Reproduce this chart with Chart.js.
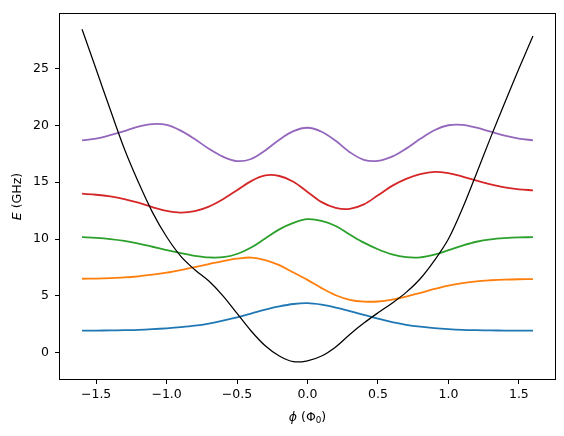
<!DOCTYPE html>
<html>
<head>
<meta charset="utf-8">
<script src="https://cdn.jsdelivr.net/npm/chart.js@4"></script>
<style>html,body{margin:0;padding:0;background:#fff}</style>
</head>
<body>
<canvas id="chart" width="564" height="436"></canvas>
<script>
// flux values (x) shared by every curve
const phi = [-1.6, -1.5, -1.4, -1.3, -1.2, -1.1, -1.0, -0.9, -0.8, -0.7, -0.6, -0.5, -0.4, -0.3, -0.2, -0.1,
  0.0, 0.1, 0.2, 0.3, 0.4, 0.5, 0.6, 0.7, 0.8, 0.9, 1.0, 1.1, 1.2, 1.3, 1.4, 1.5, 1.6];

// potential (black)
const potential = [28.48, 24.95, 21.4, 17.95, 15.0, 12.35, 10.2, 8.5, 7.3, 6.3, 5.0, 3.45, 1.9, 0.6, -0.3, -0.8,
  -0.72, -0.3, 0.5, 1.6, 2.6, 3.5, 4.35, 5.3, 6.5, 8.1, 10.0, 12.7, 15.8, 18.95, 22.0, 25.0, 27.87];

// levels with their wavefunctions
const level0 = [1.94, 1.94, 1.95, 1.97, 2.0, 2.06, 2.14, 2.24, 2.37, 2.56, 2.81, 3.1, 3.44, 3.78, 4.07, 4.28,
  4.35, 4.22, 3.97, 3.66, 3.32, 2.98, 2.68, 2.45, 2.28, 2.15, 2.06, 2.0, 1.97, 1.95, 1.94, 1.94, 1.94];
const level1 = [6.5, 6.52, 6.56, 6.62, 6.72, 6.86, 7.04, 7.27, 7.53, 7.8, 8.06, 8.27, 8.37, 8.15, 7.7, 7.05,
  6.4, 5.68, 5.05, 4.65, 4.49, 4.5, 4.66, 4.93, 5.26, 5.6, 5.9, 6.12, 6.28, 6.37, 6.43, 6.46, 6.47];
const level2 = [10.16, 10.1, 10.0, 9.84, 9.6, 9.32, 9.03, 8.75, 8.52, 8.38, 8.4, 8.68, 9.25, 10.05, 10.85, 11.42,
  11.75, 11.6, 11.15, 10.4, 9.68, 9.1, 8.65, 8.4, 8.38, 8.62, 9.02, 9.42, 9.76, 9.97, 10.08, 10.14, 10.16];
const level3 = [13.99, 13.9, 13.75, 13.52, 13.2, 12.8, 12.48, 12.33, 12.45, 12.85, 13.5, 14.3, 15.1, 15.6, 15.55, 15.05,
  14.15, 13.25, 12.75, 12.66, 13.05, 13.85, 14.68, 15.3, 15.72, 15.92, 15.8, 15.5, 15.15, 14.82, 14.55, 14.38, 14.29];
const level4 = [18.69, 18.85, 19.15, 19.5, 19.9, 20.12, 20.05, 19.55, 18.8, 17.95, 17.25, 16.86, 17.05, 17.8, 18.75, 19.5,
  19.8, 19.45, 18.65, 17.65, 16.97, 16.88, 17.25, 17.96, 18.82, 19.58, 20.02, 20.05, 19.8, 19.45, 19.1, 18.85, 18.69];

const xTicks = [-1.5, -1.0, -0.5, 0.0, 0.5, 1.0, 1.5];
const yTicks = [0, 5, 10, 15, 20, 25];

const FONT = "DejaVu Sans";
const FS = 12.5;
Chart.defaults.font.family = FONT;
Chart.defaults.font.size = FS;
Chart.defaults.color = "#000";

const fmt = (v, d) => v.toFixed(d).replace("-", "\u2212");
const pts = ys => ys.map((y, i) => ({ x: phi[i], y }));

const line = (data, color, width) => ({
  data: pts(data),
  borderColor: color,
  borderWidth: width,
  pointRadius: 0,
  tension: 0.35,
  fill: false
});

// box round the plot and the axis labels with italic parts
const frame = {
  id: "frame",
  afterDraw(chart) {
    const { ctx, chartArea: a } = chart;
    ctx.save();
    ctx.strokeStyle = "#000";
    ctx.lineWidth = 1;
    ctx.strokeRect(a.left, a.top, a.right - a.left, a.bottom - a.top);

    ctx.fillStyle = "#000";
    ctx.textBaseline = "middle";
    ctx.textAlign = "left";
    const it = `italic ${FS}px "${FONT}"`, rm = `${FS}px "${FONT}"`, sm = `${FS * 0.7}px "${FONT}"`;

    // y label
    ctx.save();
    ctx.translate(17.5, (a.top + a.bottom) / 2);
    ctx.rotate(-Math.PI / 2);
    ctx.font = it; const w1 = ctx.measureText("E").width;
    ctx.font = rm; const w2 = ctx.measureText(" (GHz)").width;
    let x = -(w1 + w2) / 2;
    ctx.font = it; ctx.fillText("E", x, 0); x += w1;
    ctx.font = rm; ctx.fillText(" (GHz)", x, 0);
    ctx.restore();

    // x label
    const cy = 417.5;
    ctx.font = it; const p1 = ctx.measureText("\u03d5").width;
    ctx.font = rm; const p2 = ctx.measureText(" (\u03a6").width, p4 = ctx.measureText(")").width;
    ctx.font = sm; const p3 = ctx.measureText("0").width;
    x = (a.left + a.right) / 2 - (p1 + p2 + p3 + p4) / 2;
    ctx.font = it; ctx.fillText("\u03d5", x, cy); x += p1;
    ctx.font = rm; ctx.fillText(" (\u03a6", x, cy); x += p2;
    ctx.font = sm; ctx.fillText("0", x, cy + 3.5); x += p3;
    ctx.font = rm; ctx.fillText(")", x, cy);
    ctx.restore();
  }
};

const tickGrid = { display: true, drawOnChartArea: false, drawTicks: true, tickLength: 4.5, color: "#000", lineWidth: 1 };

new Chart(document.getElementById("chart"), {
  type: "line",
  data: {
    datasets: [
      line(potential, "#000000", 1.25),
      line(level0, "#1f77b4", 1.8),
      line(level1, "#ff7f0e", 1.8),
      line(level2, "#2ca02c", 1.8),
      line(level3, "#d62728", 1.8),
      line(level4, "#9467bd", 1.8)
    ]
  },
  options: {
    responsive: false,
    animation: false,
    layout: { padding: { top: 9.5, right: 8.5, left: 0, bottom: 0 } },
    plugins: { legend: { display: false }, tooltip: { enabled: false } },
    scales: {
      x: {
        type: "linear",
        min: -1.76,
        max: 1.76,
        grid: tickGrid,
        border: { display: false },
        afterBuildTicks: s => { s.ticks = xTicks.map(v => ({ value: v })); },
        afterFit: s => { s.height = 56.5; },
        ticks: { padding: 3, maxRotation: 0, callback: v => fmt(v, 1) }
      },
      y: {
        type: "linear",
        min: -2.37,
        max: 29.86,
        grid: tickGrid,
        border: { display: false },
        afterBuildTicks: s => { s.ticks = yTicks.map(v => ({ value: v })); },
        afterFit: s => { s.width = 59.5; },
        ticks: { padding: 6, callback: v => fmt(v, 0) }
      }
    }
  },
  plugins: [frame]
});
</script>
</body>
</html>
